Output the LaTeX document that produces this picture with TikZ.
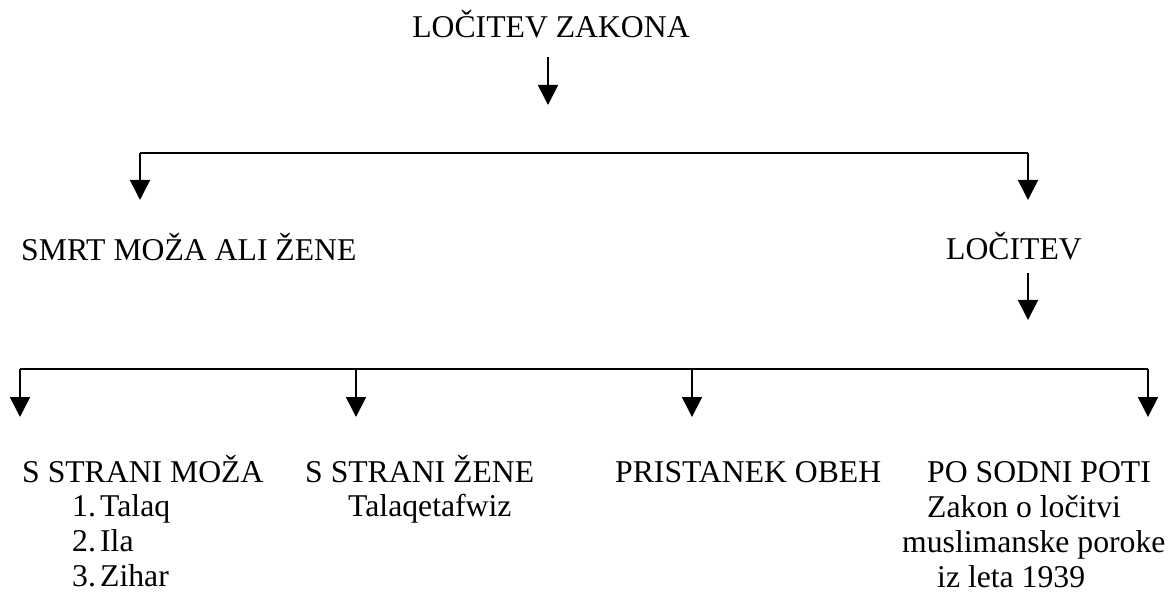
\documentclass[tikz,border=0pt]{standalone}
\usepackage{fontspec}
\setmainfont{Liberation Serif}
\usetikzlibrary{arrows.meta}
\begin{document}
\begin{tikzpicture}[x=1pt,y=-1pt,
  lbl/.style={inner sep=0pt,anchor=base west,font=\fontsize{31.7}{35}\selectfont},
  conn/.style={line width=1.8pt},
  arr/.style={conn,-{Triangle[length=20pt,width=20pt]}}]
\useasboundingbox[fill=white] (0,0) rectangle (1172,593);
% texts
\node[lbl,anchor=base] (root) at (551,38) {LOČITEV ZAKONA};
\node[lbl] (smrt) at (21,261) {SMRT MOŽA ALI ŽENE};
\node[lbl,anchor=base east] (loc) at (1082,260) {LOČITEV};
\node[lbl] (moz) at (22,482) {S STRANI MOŽA};
\node[lbl] (m1) at (72,516) {\makebox[28pt][l]{1.}Talaq};
\node[lbl] (m2) at (72,551) {\makebox[28pt][l]{2.}Ila};
\node[lbl] (m3) at (72,586) {\makebox[28pt][l]{3.}Zihar};
\node[lbl] (zen) at (305,482) {S STRANI ŽENE};
\node[lbl] (zen1) at (348,516) {Talaqetafwiz};
\node[lbl] (obeh) at (615,482) {PRISTANEK OBEH};
\node[lbl] (sod) at (927,482) {PO SODNI POTI};
\node[lbl] (sod1) at (927,517) {Zakon o ločitvi};
\node[lbl] (sod2) at (902,552) {muslimanske poroke};
\node[lbl] (sod3) at (937,587) {iz leta 1939};
% connector points
\coordinate (a0) at (548,57);
\coordinate (a1) at (548,105);
\coordinate (b0) at (140,153);
\coordinate (b1) at (1028,153);
\coordinate (bt0) at (140,200);
\coordinate (bt1) at (1028,200);
\coordinate (c0) at (1028,273);
\coordinate (c1) at (1028,320);
\coordinate (d0) at (20,369);
\coordinate (d1) at (356,369);
\coordinate (d2) at (692,369);
\coordinate (d3) at (1148,369);
\coordinate (dt0) at (20,417);
\coordinate (dt1) at (356,417);
\coordinate (dt2) at (692,417);
\coordinate (dt3) at (1148,417);
% connectors
\draw[arr] (a0) -- (a1);
\draw[arr] (bt0 |- b0) -- (bt0);
\draw[conn] (b0) -- (b1);
\draw[arr] (b1) -- (bt1);
\draw[arr] (c0) -- (c1);
\draw[conn] (d0) -- (d3);
\draw[arr] (d0) -- (dt0);
\draw[arr] (d1) -- (dt1);
\draw[arr] (d2) -- (dt2);
\draw[arr] (d3) -- (dt3);
\end{tikzpicture}
\end{document}
